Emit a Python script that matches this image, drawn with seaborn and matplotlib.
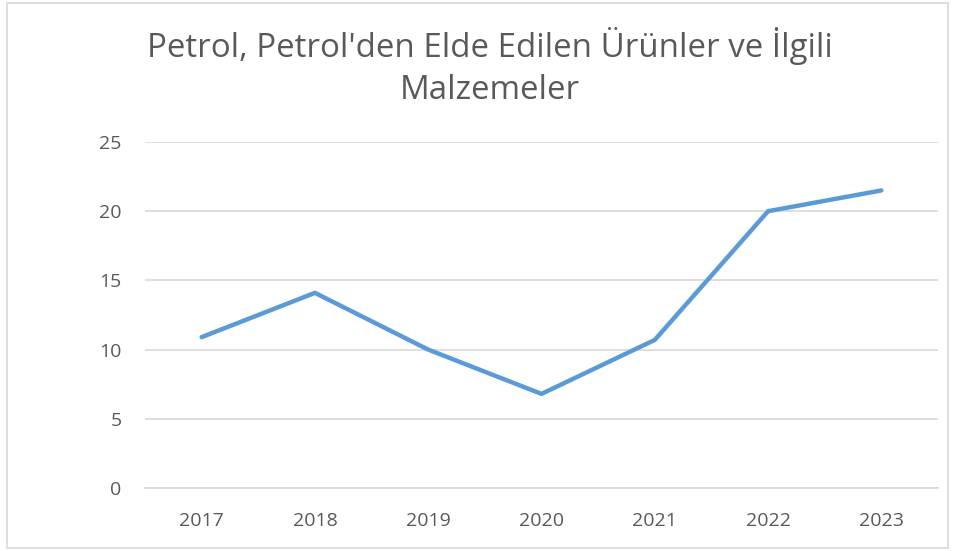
import matplotlib
matplotlib.use('Agg')
import matplotlib.pyplot as plt
import seaborn as sns
import pandas as pd
from matplotlib.patches import Rectangle

# values
years = ['2017', '2018', '2019', '2020', '2021', '2022', '2023']
values = [10.9, 14.1, 10.0, 6.8, 10.7, 20.0, 21.5]
y_ticks = [0, 5, 10, 15, 20, 25]
title = "Petrol, Petrol'den Elde Edilen Ürünler ve İlgili\nMalzemeler"

df = pd.DataFrame({'Yil': years, 'Deger': values})

sns.set_style('white')
plt.rcParams['font.family'] = ['Open Sans', 'DejaVu Sans']

text_grey = '#595959'
grid_grey = '#d9d9d9'

fig = plt.figure(figsize=(9.6, 5.51), dpi=100)
ax = fig.add_axes([145 / 960, 1 - 488 / 551, (938 - 145) / 960, (488 - 142) / 551])

sns.lineplot(data=df, x='Yil', y='Deger', ax=ax, color='#5b9bd5', linewidth=3.2,
             sort=False)

ax.set_xlim(-0.5, len(years) - 0.5)
ax.set_ylim(0, 25)
ax.set_yticks(y_ticks)
ax.grid(axis='y', color=grid_grey, linewidth=1.2)
ax.set_axisbelow(True)
for side in ['top', 'right', 'left']:
    ax.spines[side].set_visible(False)
ax.spines['bottom'].set_color(grid_grey)
ax.spines['bottom'].set_linewidth(1.2)
ax.tick_params(axis='both', length=0, labelsize=14, colors=text_grey)
ax.tick_params(axis='x', pad=17)
ax.tick_params(axis='y', pad=17)
ax.set_xlabel('')
ax.set_ylabel('')

fig.text(0.510, 1 - 67 / 551, title, ha='center', va='center', fontsize=23.8,
         color=text_grey, linespacing=1.38)

# chart frame
fig.patches.append(Rectangle((7 / 960, 3 / 551), (948 - 7) / 960, (548 - 3) / 551,
                             transform=fig.transFigure, fill=False,
                             edgecolor='#d9d9d9', linewidth=1.2))

fig.savefig('out.png', dpi=100)
